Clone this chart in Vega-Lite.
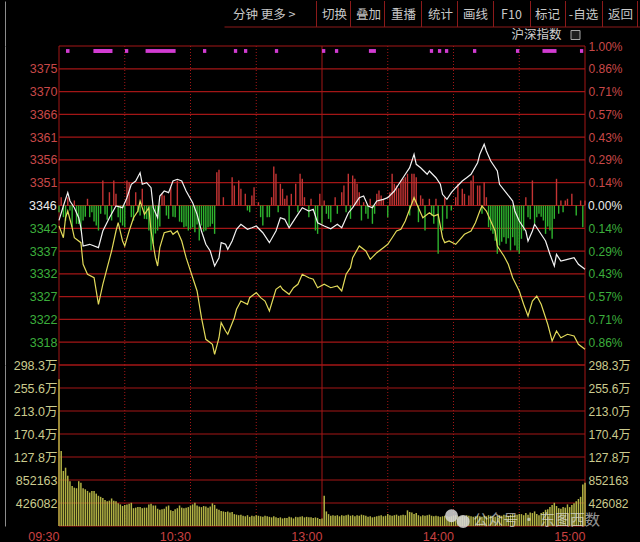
{
  "$schema": "https://vega.github.io/schema/vega-lite/v6.json",
  "background": "#000000",
  "padding": {"left": 5, "top": 0, "right": 0, "bottom": 1},
  "spacing": 0,
  "bounds": "flush",
  "config": {
    "view": {"stroke": null},
    "axis": {"labelFont": "Liberation Sans, Noto Sans CJK SC", "labelFontSize": 12, "ticks": false, "tickSize": 0, "grid": false, "domain": false, "labelOverlap": false, "labelFlush": false}
  },
  "vconcat": [
    {
      "width": 581,
      "height": 45,
      "layer": [
        {
          "data": {"values": [
            {"x": 186.5, "y": 14, "s": "分钟"}, {"x": 219, "y": 14, "s": "更多 >"},
            {"x": 275.5, "y": 14, "s": "切换"}, {"x": 309.5, "y": 14, "s": "叠加"},
            {"x": 344.5, "y": 14, "s": "重播"}, {"x": 381.5, "y": 14, "s": "统计"},
            {"x": 416.5, "y": 14, "s": "画线"}, {"x": 452.5, "y": 14, "s": "F10"},
            {"x": 488.5, "y": 14, "s": "标记"}, {"x": 524.5, "y": 14, "s": "-自选"},
            {"x": 561.5, "y": 14, "s": "返回"}
          ]},
          "mark": {"type": "text", "font": "Noto Sans CJK SC", "fontSize": 12.5, "color": "#c8c8c8", "baseline": "middle", "align": "center"},
          "encoding": {
            "x": {"field": "x", "type": "quantitative", "scale": {"domain": [0, 581], "nice": false, "zero": false}, "axis": null},
            "y": {"field": "y", "type": "quantitative", "scale": {"domain": [0, 45], "nice": false, "reverse": true},
              "axis": {"orient": "left", "offset": 54, "domain": true, "domainColor": "#8c8c8c", "domainWidth": 1, "labels": false, "ticks": false, "grid": false, "title": null, "values": [10]}},
            "text": {"field": "s"}
          }
        },
        {
          "data": {"values": [
            {"x": 257.5, "y": 0, "y2": 26}, {"x": 291.5, "y": 0, "y2": 26}, {"x": 325.5, "y": 0, "y2": 26}, {"x": 362.5, "y": 0, "y2": 26}, {"x": 398.5, "y": 0, "y2": 26},
            {"x": 434.5, "y": 0, "y2": 26}, {"x": 471.5, "y": 0, "y2": 26}, {"x": 506.5, "y": 0, "y2": 26}, {"x": 543.5, "y": 0, "y2": 26}, {"x": 578.5, "y": 0, "y2": 26}
          ]},
          "mark": {"type": "rule", "color": "#8b1a1a", "strokeWidth": 1},
          "encoding": {
            "x": {"field": "x", "type": "quantitative", "scale": {"domain": [0, 581], "nice": false, "zero": false}, "axis": null},
            "y": {"field": "y", "type": "quantitative", "scale": {"domain": [0, 45], "nice": false, "reverse": true}},
            "y2": {"field": "y2"}
          }
        },
        {
          "data": {"values": [{"x": 165.5, "x2": 581, "y": 26}]},
          "mark": {"type": "rule", "color": "#8b1a1a", "strokeWidth": 1},
          "encoding": {
            "x": {"field": "x", "type": "quantitative", "scale": {"domain": [0, 581], "nice": false, "zero": false}, "axis": null},
            "x2": {"field": "x2"},
            "y": {"field": "y", "type": "quantitative", "scale": {"domain": [0, 45], "nice": false, "reverse": true}}
          }
        },
        {
          "data": {"values": [{"x": 502.5, "y": 34, "s": "沪深指数"}]},
          "mark": {"type": "text", "font": "Noto Sans CJK SC", "fontSize": 12.5, "color": "#d0d0d0", "baseline": "middle", "align": "right"},
          "encoding": {
            "x": {"field": "x", "type": "quantitative", "scale": {"domain": [0, 581], "nice": false, "zero": false}, "axis": null},
            "y": {"field": "y", "type": "quantitative", "scale": {"domain": [0, 45], "nice": false, "reverse": true}},
            "text": {"field": "s"}
          }
        },
        {
          "data": {"values": [{"x": 512, "x2": 521, "y": 29.5, "y2": 38.5}]},
          "mark": {"type": "rect", "fill": "#202020", "stroke": "#a8a8a8", "strokeWidth": 1},
          "encoding": {
            "x": {"field": "x", "type": "quantitative", "scale": {"domain": [0, 581], "nice": false, "zero": false}, "axis": null},
            "x2": {"field": "x2"},
            "y": {"field": "y", "type": "quantitative", "scale": {"domain": [0, 45], "nice": false, "reverse": true}},
            "y2": {"field": "y2"}
          }
        }
      ]
    },
    {
      "width": 526,
      "height": 319,
      "resolve": {"axis": {"y": "independent"}},
      "layer": [
        {
          "data": {"values": [
            {"p": 3312.916}, {"p": 3317.697}, {"p": 3322.477}, {"p": 3327.258}, {"p": 3332.038},
            {"p": 3336.819}, {"p": 3341.599}, {"p": 3346.38}, {"p": 3351.161}, {"p": 3355.941},
            {"p": 3360.722}, {"p": 3365.502}, {"p": 3370.283}, {"p": 3375.063}, {"p": 3379.844}
          ]},
          "mark": {"type": "rule", "color": "#a31616", "strokeWidth": 1.2},
          "encoding": {
            "y": {
              "field": "p", "type": "quantitative",
              "scale": {"domain": [3312.916, 3379.844], "nice": false, "zero": false},
              "axis": {
                "orient": "left", "title": null, "offset": 54, "domain": true, "domainColor": "#8c8c8c", "domainWidth": 1,
                "labelPadding": -52, "labelFontSize": 12.5,
                "values": [3317.697, 3322.477, 3327.258, 3332.038, 3336.819, 3341.599, 3346.38, 3351.161, 3355.941, 3360.722, 3365.502, 3370.283, 3375.063],
                "labelExpr": "abs(datum.value - 3346.38) < 0.1 ? '' : format(datum.value, '.0f')",
                "labelColor": {"condition": {"test": "datum.value > 3347", "value": "#c84848"}, "value": "#3cae3c"}
              }
            }
          }
        },
        {
          "data": {"values": [{"t": 0}, {"t": 120}, {"t": 240}]},
          "mark": {"type": "rule", "color": "#a31616", "strokeWidth": 1},
          "encoding": {
            "x": {"field": "t", "type": "quantitative", "scale": {"domain": [0, 240], "nice": false, "zero": false}, "axis": null}
          }
        },
        {
          "data": {"values": [{"t": 30}, {"t": 60}, {"t": 90}, {"t": 150}, {"t": 180}, {"t": 210}]},
          "mark": {"type": "rule", "color": "#a31616", "strokeWidth": 1, "strokeDash": [1, 2]},
          "encoding": {
            "x": {"field": "t", "type": "quantitative", "scale": {"domain": [0, 240], "nice": false, "zero": false}, "axis": null}
          }
        },
        {
          "data": {"values": [
            {"t":0,"b":3344.97},{"t":1,"b":3348.12},{"t":2,"b":3343.93},{"t":3,"b":3343.2},{"t":4,"b":3348.12},{"t":5,"b":3345.33},{"t":6,"b":3341.83},{"t":7,"b":3347.43},{"t":8,"b":3342.54},{"t":9,"b":3342.5},{"t":10,"b":3341.13},{"t":11,"b":3343.23},{"t":12,"b":3344.0},{"t":13,"b":3347.79},{"t":14,"b":3343.93},{"t":15,"b":3344.97},{"t":16,"b":3343.0},{"t":17,"b":3342.2},{"t":18,"b":3341.13},{"t":19,"b":3344.64},{"t":20,"b":3351.63},{"t":21,"b":3344.5},{"t":22,"b":3343.4},{"t":23,"b":3349.17},{"t":24,"b":3343.23},{"t":25,"b":3351.63},{"t":26,"b":3348.83},{"t":27,"b":3343.93},{"t":28,"b":3342.8},{"t":29,"b":3342.18},{"t":30,"b":3341.83},{"t":31,"b":3351.63},{"t":32,"b":3351.27},{"t":33,"b":3343.93},{"t":34,"b":3343.23},{"t":35,"b":3349.17},{"t":36,"b":3344.97},{"t":37,"b":3344.28},{"t":38,"b":3349.88},{"t":39,"b":3343.58},{"t":40,"b":3343.5},{"t":41,"b":3341.13},{"t":42,"b":3336.94},{"t":43,"b":3338.34},{"t":44,"b":3340.5},{"t":45,"b":3341.13},{"t":46,"b":3342.0},{"t":47,"b":3348.83},{"t":48,"b":3348.48},{"t":49,"b":3344.28},{"t":50,"b":3343.58},{"t":51,"b":3350.22},{"t":52,"b":3344.0},{"t":53,"b":3343.93},{"t":54,"b":3351.63},{"t":55,"b":3343.0},{"t":56,"b":3342.88},{"t":57,"b":3341.83},{"t":58,"b":3342.0},{"t":59,"b":3341.13},{"t":60,"b":3341.48},{"t":61,"b":3341.8},{"t":62,"b":3340.78},{"t":63,"b":3342.4},{"t":64,"b":3339.04},{"t":65,"b":3342.18},{"t":66,"b":3340.9},{"t":67,"b":3341.13},{"t":68,"b":3341.83},{"t":69,"b":3342.0},{"t":70,"b":3342.54},{"t":71,"b":3340.43},{"t":72,"b":3353.37},{"t":73,"b":3353.87},{"t":75,"b":3348.12},{"t":79,"b":3352.32},{"t":80,"b":3350.58},{"t":82,"b":3351.63},{"t":83,"b":3349.88},{"t":85,"b":3348.83},{"t":86,"b":3345.33},{"t":87,"b":3344.97},{"t":88,"b":3348.48},{"t":89,"b":3350.22},{"t":91,"b":3347.07},{"t":92,"b":3343.93},{"t":93,"b":3342.18},{"t":95,"b":3343.93},{"t":96,"b":3343.93},{"t":97,"b":3348.12},{"t":98,"b":3354.56},{"t":99,"b":3353.03},{"t":100,"b":3344.97},{"t":101,"b":3350.93},{"t":102,"b":3349.88},{"t":103,"b":3347.79},{"t":104,"b":3348.48},{"t":105,"b":3342.18},{"t":106,"b":3348.83},{"t":108,"b":3350.93},{"t":109,"b":3344.97},{"t":110,"b":3353.03},{"t":111,"b":3351.98},{"t":112,"b":3348.12},{"t":114,"b":3343.93},{"t":115,"b":3347.79},{"t":117,"b":3341.13},{"t":118,"b":3340.43},{"t":119,"b":3348.83},{"t":120,"b":3342.54},{"t":121,"b":3347.43},{"t":122,"b":3344.64},{"t":123,"b":3343.58},{"t":124,"b":3342.88},{"t":126,"b":3348.12},{"t":127,"b":3344.64},{"t":129,"b":3349.17},{"t":130,"b":3350.58},{"t":131,"b":3344.97},{"t":132,"b":3353.03},{"t":133,"b":3343.58},{"t":134,"b":3352.67},{"t":135,"b":3351.98},{"t":136,"b":3350.93},{"t":137,"b":3349.17},{"t":138,"b":3343.23},{"t":139,"b":3347.07},{"t":140,"b":3344.64},{"t":141,"b":3343.58},{"t":142,"b":3347.8},{"t":143,"b":3342.54},{"t":144,"b":3344.64},{"t":145,"b":3348.83},{"t":146,"b":3349.53},{"t":147,"b":3348.5},{"t":148,"b":3347.79},{"t":150,"b":3343.93},{"t":151,"b":3349.17},{"t":152,"b":3353.03},{"t":153,"b":3350.93},{"t":154,"b":3350.58},{"t":155,"b":3350.0},{"t":156,"b":3351.63},{"t":157,"b":3352.0},{"t":158,"b":3352.32},{"t":159,"b":3353.03},{"t":160,"b":3344.28},{"t":161,"b":3353.03},{"t":162,"b":3353.03},{"t":163,"b":3352.32},{"t":164,"b":3342.88},{"t":165,"b":3348.5},{"t":166,"b":3347.79},{"t":167,"b":3341.13},{"t":169,"b":3347.79},{"t":170,"b":3344.28},{"t":171,"b":3342.54},{"t":172,"b":3347.79},{"t":173,"b":3336.24},{"t":175,"b":3341.13},{"t":176,"b":3348.12},{"t":177,"b":3343.58},{"t":179,"b":3345.33},{"t":181,"b":3348.12},{"t":182,"b":3350.93},{"t":184,"b":3349.88},{"t":185,"b":3348.83},{"t":187,"b":3348.48},{"t":188,"b":3351.63},{"t":189,"b":3352.67},{"t":191,"b":3350.58},{"t":192,"b":3350.58},{"t":193,"b":3344.64},{"t":194,"b":3351.27},{"t":195,"b":3348.12},{"t":196,"b":3341.83},{"t":197,"b":3341.13},{"t":198,"b":3340.43},{"t":199,"b":3339.0},{"t":200,"b":3336.24},{"t":201,"b":3337.99},{"t":202,"b":3338.8},{"t":203,"b":3339.73},{"t":204,"b":3338.34},{"t":205,"b":3339.5},{"t":206,"b":3336.94},{"t":207,"b":3339.73},{"t":208,"b":3338.0},{"t":209,"b":3336.94},{"t":210,"b":3336.24},{"t":211,"b":3339.39},{"t":212,"b":3341.13},{"t":213,"b":3348.12},{"t":214,"b":3343.93},{"t":215,"b":3343.5},{"t":216,"b":3351.63},{"t":217,"b":3342.6},{"t":218,"b":3343.9},{"t":219,"b":3344.64},{"t":220,"b":3344.0},{"t":221,"b":3343.23},{"t":222,"b":3340.43},{"t":223,"b":3342.0},{"t":224,"b":3341.13},{"t":225,"b":3339.39},{"t":226,"b":3343.58},{"t":227,"b":3351.98},{"t":228,"b":3344.64},{"t":229,"b":3347.43},{"t":230,"b":3344.97},{"t":231,"b":3347.43},{"t":232,"b":3347.79},{"t":234,"b":3348.83},{"t":236,"b":3344.28},{"t":238,"b":3347.43},{"t":239,"b":3341.83},{"t":240,"b":3347.43}
          ]},
          "mark": {"type": "rule", "strokeWidth": 1.4},
          "encoding": {
            "x": {"field": "t", "type": "quantitative", "scale": {"domain": [0, 240], "nice": false, "zero": false}, "axis": null},
            "y": {
              "field": "b", "type": "quantitative",
              "scale": {"domain": [3312.916, 3379.844], "nice": false, "zero": false},
              "axis": {
                "orient": "right", "title": null, "labelPadding": 3, "labelFontSize": 12,
                "values": [3317.697, 3322.477, 3327.258, 3332.038, 3336.819, 3341.599, 3346.38, 3351.161, 3355.941, 3360.722, 3365.502, 3370.283, 3375.063, 3379.844],
                "labelExpr": "abs(datum.value - 3346.38) < 0.1 ? '' : format(abs(datum.value - 3346.38) / 33.4638, '.2f') + '%'",
                "labelColor": {"condition": {"test": "datum.value > 3347", "value": "#c84848"}, "value": "#3cae3c"}
              }
            },
            "y2": {"datum": 3346.38},
            "color": {"condition": {"test": "datum.b > 3346.38", "value": "#c43434"}, "value": "#2eb42e"}
          }
        },
        {
          "data": {"values": [
            {"t":0,"s":"加权","p":3343.27},{"t":2,"s":"加权","p":3346.28},{"t":4,"s":"加权","p":3349.07},{"t":5,"s":"加权","p":3347.32},{"t":7,"s":"加权","p":3345.92},{"t":9,"s":"加权","p":3343.82},{"t":10,"s":"加权","p":3341.72},{"t":11,"s":"加权","p":3337.88},{"t":14,"s":"加权","p":3338.24},{"t":18,"s":"加权","p":3337.53},{"t":20,"s":"加权","p":3341.03},{"t":23,"s":"加权","p":3343.82},{"t":26,"s":"加权","p":3346.28},{"t":29,"s":"加权","p":3345.92},{"t":31,"s":"加权","p":3348.02},{"t":33,"s":"加权","p":3350.83},{"t":35,"s":"加权","p":3351.52},{"t":37,"s":"加权","p":3353.26},{"t":38,"s":"加权","p":3350.83},{"t":40,"s":"加权","p":3351.16},{"t":42,"s":"加权","p":3350.11},{"t":43,"s":"加权","p":3345.92},{"t":45,"s":"加权","p":3343.82},{"t":46,"s":"加权","p":3348.37},{"t":48,"s":"加权","p":3349.42},{"t":50,"s":"加权","p":3349.07},{"t":52,"s":"加权","p":3351.52},{"t":54,"s":"加权","p":3351.88},{"t":56,"s":"加权","p":3351.52},{"t":58,"s":"加权","p":3349.42},{"t":61,"s":"加权","p":3346.97},{"t":63,"s":"加权","p":3344.53},{"t":65,"s":"加权","p":3341.03},{"t":67,"s":"加权","p":3338.24},{"t":69,"s":"加权","p":3336.83},{"t":71,"s":"加权","p":3333.69},{"t":73,"s":"加权","p":3335.43},{"t":74,"s":"加权","p":3338.58},{"t":76,"s":"加权","p":3338.24},{"t":77,"s":"加权","p":3337.19},{"t":79,"s":"加权","p":3338.93},{"t":81,"s":"加权","p":3341.39},{"t":83,"s":"加权","p":3342.44},{"t":86,"s":"加权","p":3341.39},{"t":88,"s":"加权","p":3341.72},{"t":90,"s":"加权","p":3342.08},{"t":93,"s":"加权","p":3340.67},{"t":96,"s":"加权","p":3338.58},{"t":99,"s":"加权","p":3341.03},{"t":101,"s":"加权","p":3343.82},{"t":103,"s":"加权","p":3343.48},{"t":105,"s":"加权","p":3341.72},{"t":108,"s":"加权","p":3343.82},{"t":111,"s":"加权","p":3345.92},{"t":114,"s":"加权","p":3345.23},{"t":116,"s":"加权","p":3345.58},{"t":118,"s":"加权","p":3342.77},{"t":121,"s":"加权","p":3342.08},{"t":124,"s":"加权","p":3341.5},{"t":127,"s":"加权","p":3342.44},{"t":129,"s":"加权","p":3341.72},{"t":132,"s":"加权","p":3344.81},{"t":134,"s":"加权","p":3345.92},{"t":137,"s":"加权","p":3348.02},{"t":139,"s":"加权","p":3348.37},{"t":141,"s":"加权","p":3346.28},{"t":143,"s":"加权","p":3345.92},{"t":145,"s":"加权","p":3347.32},{"t":148,"s":"加权","p":3347.68},{"t":150,"s":"加权","p":3348.02},{"t":153,"s":"加权","p":3349.42},{"t":155,"s":"加权","p":3350.83},{"t":156,"s":"加权","p":3351.52},{"t":158,"s":"加权","p":3352.93},{"t":160,"s":"加权","p":3354.31},{"t":162,"s":"加权","p":3357.12},{"t":163,"s":"加权","p":3355.02},{"t":165,"s":"加权","p":3354.31},{"t":168,"s":"加权","p":3352.93},{"t":169,"s":"加权","p":3353.62},{"t":172,"s":"加权","p":3352.21},{"t":174,"s":"加权","p":3350.83},{"t":175,"s":"加权","p":3348.73},{"t":177,"s":"加权","p":3347.68},{"t":179,"s":"加权","p":3349.07},{"t":181,"s":"加权","p":3350.11},{"t":184,"s":"加权","p":3351.52},{"t":186,"s":"加权","p":3352.21},{"t":188,"s":"加权","p":3352.93},{"t":191,"s":"加权","p":3355.36},{"t":192,"s":"加权","p":3357.12},{"t":194,"s":"加权","p":3359.22},{"t":195,"s":"加权","p":3357.81},{"t":197,"s":"加权","p":3355.72},{"t":200,"s":"加权","p":3353.62},{"t":201,"s":"加权","p":3350.83},{"t":204,"s":"加权","p":3349.07},{"t":207,"s":"加权","p":3347.32},{"t":208,"s":"加权","p":3345.23},{"t":210,"s":"加权","p":3343.13},{"t":213,"s":"加权","p":3341.03},{"t":214,"s":"加权","p":3338.93},{"t":216,"s":"加权","p":3341.03},{"t":217,"s":"加权","p":3342.44},{"t":219,"s":"加权","p":3341.03},{"t":222,"s":"加权","p":3338.93},{"t":224,"s":"加权","p":3336.14},{"t":226,"s":"加权","p":3333.69},{"t":227,"s":"加权","p":3336.14},{"t":229,"s":"加权","p":3334.74},{"t":232,"s":"加权","p":3335.09},{"t":235,"s":"加权","p":3335.43},{"t":237,"s":"加权","p":3334.04},{"t":240,"s":"加权","p":3332.99},
            {"t":0,"s":"不加权","p":3342.08},{"t":2,"s":"不加权","p":3339.62},{"t":3,"s":"不加权","p":3343.82},{"t":4,"s":"不加权","p":3345.23},{"t":6,"s":"不加权","p":3341.72},{"t":7,"s":"不加权","p":3339.62},{"t":10,"s":"不加权","p":3338.58},{"t":11,"s":"不加权","p":3334.04},{"t":13,"s":"不加权","p":3331.95},{"t":16,"s":"不加权","p":3331.23},{"t":18,"s":"不加权","p":3325.65},{"t":20,"s":"不加权","p":3329.85},{"t":22,"s":"不加权","p":3333.33},{"t":24,"s":"不加权","p":3336.83},{"t":26,"s":"不加权","p":3341.03},{"t":27,"s":"不加权","p":3342.77},{"t":29,"s":"不加权","p":3338.93},{"t":30,"s":"不加权","p":3337.88},{"t":32,"s":"不加权","p":3341.03},{"t":34,"s":"不加权","p":3343.82},{"t":36,"s":"不加权","p":3345.23},{"t":37,"s":"不加权","p":3347.32},{"t":39,"s":"不加权","p":3344.53},{"t":41,"s":"不加权","p":3345.92},{"t":42,"s":"不加权","p":3341.03},{"t":44,"s":"不加权","p":3335.43},{"t":45,"s":"不加权","p":3333.69},{"t":46,"s":"不加权","p":3337.53},{"t":48,"s":"不加权","p":3340.67},{"t":51,"s":"不加权","p":3341.03},{"t":52,"s":"不加权","p":3340.34},{"t":54,"s":"不加权","p":3341.03},{"t":56,"s":"不加权","p":3338.93},{"t":58,"s":"不加权","p":3335.43},{"t":60,"s":"不加权","p":3332.64},{"t":63,"s":"不加权","p":3328.44},{"t":65,"s":"不加权","p":3322.84},{"t":67,"s":"不加权","p":3318.31},{"t":70,"s":"不加权","p":3317.26},{"t":71,"s":"不加权","p":3315.16},{"t":73,"s":"不加权","p":3318.64},{"t":74,"s":"不加权","p":3321.79},{"t":76,"s":"不加权","p":3320.05},{"t":77,"s":"不加权","p":3319.36},{"t":80,"s":"不加权","p":3322.84},{"t":81,"s":"不加权","p":3324.6},{"t":83,"s":"不加权","p":3326.34},{"t":86,"s":"不加权","p":3325.65},{"t":87,"s":"不加权","p":3327.04},{"t":90,"s":"不加权","p":3328.09},{"t":92,"s":"不加权","p":3327.04},{"t":94,"s":"不加权","p":3326.34},{"t":96,"s":"不加权","p":3324.25},{"t":99,"s":"不加权","p":3328.8},{"t":101,"s":"不加权","p":3329.49},{"t":102,"s":"不加权","p":3328.8},{"t":105,"s":"不加权","p":3327.75},{"t":107,"s":"不加权","p":3329.13},{"t":109,"s":"不加权","p":3329.85},{"t":111,"s":"不加权","p":3331.95},{"t":114,"s":"不加权","p":3331.23},{"t":116,"s":"不加权","p":3330.9},{"t":118,"s":"不加权","p":3329.13},{"t":121,"s":"不加权","p":3329.85},{"t":124,"s":"不加权","p":3329.13},{"t":127,"s":"不加权","p":3329.49},{"t":129,"s":"不加权","p":3328.44},{"t":131,"s":"不加权","p":3331.95},{"t":133,"s":"不加权","p":3333.33},{"t":134,"s":"不加权","p":3335.43},{"t":137,"s":"不加权","p":3337.88},{"t":140,"s":"不加权","p":3336.83},{"t":142,"s":"不加权","p":3335.09},{"t":145,"s":"不加权","p":3336.48},{"t":148,"s":"不加权","p":3337.53},{"t":150,"s":"不加权","p":3338.24},{"t":152,"s":"不加权","p":3339.62},{"t":154,"s":"不加权","p":3341.03},{"t":156,"s":"不加权","p":3341.39},{"t":158,"s":"不加权","p":3343.13},{"t":160,"s":"不加权","p":3345.58},{"t":162,"s":"不加权","p":3348.02},{"t":164,"s":"不加权","p":3345.92},{"t":166,"s":"不加权","p":3343.82},{"t":169,"s":"不加权","p":3344.87},{"t":171,"s":"不加权","p":3344.18},{"t":173,"s":"不加权","p":3344.53},{"t":175,"s":"不加权","p":3339.62},{"t":176,"s":"不加权","p":3338.58},{"t":178,"s":"不加权","p":3338.93},{"t":181,"s":"不加权","p":3338.24},{"t":183,"s":"不加权","p":3339.29},{"t":185,"s":"不加权","p":3340.34},{"t":188,"s":"不加权","p":3341.03},{"t":190,"s":"不加权","p":3342.77},{"t":192,"s":"不加权","p":3345.23},{"t":193,"s":"不加权","p":3346.28},{"t":195,"s":"不加权","p":3345.23},{"t":197,"s":"不加权","p":3343.13},{"t":199,"s":"不加权","p":3341.03},{"t":200,"s":"不加权","p":3337.88},{"t":203,"s":"不加权","p":3335.79},{"t":205,"s":"不加权","p":3334.04},{"t":207,"s":"不加权","p":3331.23},{"t":210,"s":"不加权","p":3328.44},{"t":212,"s":"不加权","p":3325.65},{"t":214,"s":"不加权","p":3323.2},{"t":216,"s":"不加权","p":3326.34},{"t":218,"s":"不加权","p":3327.39},{"t":220,"s":"不加权","p":3325.65},{"t":223,"s":"不加权","p":3321.46},{"t":225,"s":"不加权","p":3317.95},{"t":227,"s":"不加权","p":3320.05},{"t":229,"s":"不加权","p":3318.64},{"t":232,"s":"不加权","p":3319.36},{"t":235,"s":"不加权","p":3319.0},{"t":237,"s":"不加权","p":3317.26},{"t":240,"s":"不加权","p":3316.21}
          ]},
          "mark": {"type": "line", "strokeWidth": 1.2, "interpolate": "linear"},
          "encoding": {
            "x": {"field": "t", "type": "quantitative", "scale": {"domain": [0, 240], "nice": false, "zero": false}, "axis": null},
            "y": {"field": "p", "type": "quantitative", "scale": {"domain": [3312.916, 3379.844], "nice": false, "zero": false}, "axis": null},
            "color": {"field": "s", "type": "nominal", "scale": {"domain": ["加权", "不加权"], "range": ["#f2f2f2", "#e2da5a"]}, "legend": null}
          }
        },
        {
          "data": {"values": [
            {"t0": 3.2, "t1": 4.8, "lo": 3378.4, "hi": 3379.2}, {"t0": 15.7, "t1": 24.4, "lo": 3378.4, "hi": 3379.2}, {"t0": 30.1, "t1": 31.6, "lo": 3378.4, "hi": 3379.2}, {"t0": 39.5, "t1": 53.2, "lo": 3378.4, "hi": 3379.2},
            {"t0": 65.7, "t1": 67.2, "lo": 3378.4, "hi": 3379.2}, {"t0": 79.8, "t1": 81.3, "lo": 3378.4, "hi": 3379.2}, {"t0": 84.4, "t1": 85.9, "lo": 3378.4, "hi": 3379.2}, {"t0": 98.5, "t1": 100, "lo": 3378.4, "hi": 3379.2},
            {"t0": 120, "t1": 121.5, "lo": 3378.4, "hi": 3379.2}, {"t0": 125.9, "t1": 127.4, "lo": 3378.4, "hi": 3379.2}, {"t0": 141.4, "t1": 144.6, "lo": 3378.4, "hi": 3379.2}, {"t0": 169.2, "t1": 170.7, "lo": 3378.4, "hi": 3379.2},
            {"t0": 172.9, "t1": 174.4, "lo": 3378.4, "hi": 3379.2}, {"t0": 176.1, "t1": 177.6, "lo": 3378.4, "hi": 3379.2}, {"t0": 188.9, "t1": 190.4, "lo": 3378.4, "hi": 3379.2}, {"t0": 208.5, "t1": 210, "lo": 3378.4, "hi": 3379.2},
            {"t0": 220.6, "t1": 227, "lo": 3378.4, "hi": 3379.2}, {"t0": 237.7, "t1": 239.2, "lo": 3378.4, "hi": 3379.2}
          ]},
          "mark": {"type": "rect", "color": "#d23cd2"},
          "encoding": {
            "x": {"field": "t0", "type": "quantitative", "scale": {"domain": [0, 240], "nice": false, "zero": false}, "axis": null},
            "x2": {"field": "t1"},
            "y": {"field": "lo", "type": "quantitative", "scale": {"domain": [3312.916, 3379.844], "nice": false, "zero": false}, "axis": null},
            "y2": {"field": "hi"}
          }
        },
        {
          "data": {"values": [{"t": -1, "p": 3346.38, "s": "3346"}]},
          "mark": {"type": "text", "font": "Liberation Sans, Noto Sans CJK SC", "fontSize": 12.5, "align": "right", "baseline": "middle", "color": "#ececec"},
          "encoding": {
            "x": {"field": "t", "type": "quantitative", "scale": {"domain": [0, 240], "nice": false, "zero": false}, "axis": null},
            "y": {"field": "p", "type": "quantitative", "scale": {"domain": [3312.916, 3379.844], "nice": false, "zero": false}, "axis": null},
            "text": {"field": "s"}
          }
        },
        {
          "data": {"values": [{"t": 241.4, "p": 3346.38, "s": "0.00%"}]},
          "mark": {"type": "text", "font": "Liberation Sans, Noto Sans CJK SC", "fontSize": 12, "align": "left", "baseline": "middle", "color": "#ececec"},
          "encoding": {
            "x": {"field": "t", "type": "quantitative", "scale": {"domain": [0, 240], "nice": false, "zero": false}, "axis": null},
            "y": {"field": "p", "type": "quantitative", "scale": {"domain": [3312.916, 3379.844], "nice": false, "zero": false}, "axis": null},
            "text": {"field": "s"}
          }
        }
      ]
    },
    {
      "width": 526,
      "height": 161,
      "resolve": {"axis": {"y": "independent"}},
      "layer": [
        {
          "data": {"values": [
            {"v": 0}, {"v": 426081.6}, {"v": 852163.2}, {"v": 1278244.8}, {"v": 1704326.4}, {"v": 2130408}, {"v": 2556489.6}, {"v": 2982571.2}
          ]},
          "mark": {"type": "rule", "color": "#a31616", "strokeWidth": 1.2},
          "encoding": {
            "y": {
              "field": "v", "type": "quantitative",
              "scale": {"domain": [0, 2982571.2], "nice": false, "zero": true},
              "axis": {
                "orient": "left", "title": null, "offset": 54, "domain": true, "domainColor": "#8c8c8c", "domainWidth": 1,
                "labelPadding": -52, "labelFontSize": 12.5, "labelColor": "#cbcb8e",
                "values": [426081.6, 852163.2, 1278244.8, 1704326.4, 2130408, 2556489.6, 2982571.2],
                "labelExpr": "datum.value >= 1000000 ? format(datum.value / 10000, '.1f') + '万' : format(datum.value, '.0f')"
              }
            }
          }
        },
        {
          "data": {"values": [{"t": 0}, {"t": 120}, {"t": 240}]},
          "mark": {"type": "rule", "color": "#a31616", "strokeWidth": 1},
          "encoding": {
            "x": {"field": "t", "type": "quantitative", "scale": {"domain": [0, 240], "nice": false, "zero": false}}
          }
        },
        {
          "data": {"values": [{"t": 30}, {"t": 60}, {"t": 90}, {"t": 150}, {"t": 180}, {"t": 210}]},
          "mark": {"type": "rule", "color": "#a31616", "strokeWidth": 1, "strokeDash": [1, 2]},
          "encoding": {
            "x": {"field": "t", "type": "quantitative", "scale": {"domain": [0, 240], "nice": false, "zero": false}}
          }
        },
        {
          "data": {"values": [
            {"t":0,"v":2720000},{"t":1,"v":1390000},{"t":2,"v":1020000},{"t":3,"v":1080000},{"t":4,"v":930000},{"t":5,"v":830000},{"t":6,"v":740000},{"t":7,"v":710000},{"t":8,"v":700000},{"t":9,"v":830000},{"t":10,"v":800000},{"t":11,"v":700000},{"t":12,"v":680000},{"t":13,"v":650000},{"t":14,"v":620000},{"t":15,"v":650000},{"t":16,"v":650000},{"t":17,"v":600000},{"t":18,"v":560000},{"t":19,"v":540000},{"t":20,"v":520000},{"t":21,"v":480000},{"t":22,"v":460000},{"t":23,"v":470000},{"t":24,"v":510000},{"t":25,"v":470000},{"t":26,"v":460000},{"t":27,"v":420000},{"t":28,"v":400000},{"t":29,"v":370000},{"t":30,"v":390000},{"t":31,"v":400000},{"t":32,"v":410000},{"t":33,"v":430000},{"t":34,"v":330000},{"t":35,"v":340000},{"t":36,"v":350000},{"t":37,"v":350000},{"t":38,"v":330000},{"t":39,"v":340000},{"t":40,"v":340000},{"t":41,"v":400000},{"t":42,"v":410000},{"t":43,"v":380000},{"t":44,"v":380000},{"t":45,"v":320000},{"t":46,"v":300000},{"t":47,"v":310000},{"t":48,"v":320000},{"t":49,"v":360000},{"t":50,"v":380000},{"t":51,"v":290000},{"t":52,"v":280000},{"t":53,"v":310000},{"t":54,"v":330000},{"t":55,"v":380000},{"t":56,"v":340000},{"t":57,"v":330000},{"t":58,"v":340000},{"t":59,"v":350000},{"t":60,"v":380000},{"t":61,"v":400000},{"t":62,"v":430000},{"t":63,"v":380000},{"t":64,"v":360000},{"t":65,"v":350000},{"t":66,"v":370000},{"t":67,"v":360000},{"t":68,"v":340000},{"t":69,"v":360000},{"t":70,"v":420000},{"t":71,"v":390000},{"t":72,"v":320000},{"t":73,"v":300000},{"t":74,"v":280000},{"t":75,"v":270000},{"t":76,"v":260000},{"t":77,"v":270000},{"t":78,"v":250000},{"t":79,"v":260000},{"t":80,"v":220000},{"t":81,"v":210000},{"t":82,"v":200000},{"t":83,"v":210000},{"t":84,"v":190000},{"t":85,"v":180000},{"t":86,"v":200000},{"t":87,"v":170000},{"t":88,"v":190000},{"t":89,"v":180000},{"t":90,"v":200000},{"t":91,"v":190000},{"t":92,"v":180000},{"t":93,"v":170000},{"t":94,"v":190000},{"t":95,"v":180000},{"t":96,"v":170000},{"t":97,"v":160000},{"t":98,"v":180000},{"t":99,"v":160000},{"t":100,"v":150000},{"t":101,"v":160000},{"t":102,"v":140000},{"t":103,"v":150000},{"t":104,"v":150000},{"t":105,"v":170000},{"t":106,"v":160000},{"t":107,"v":140000},{"t":108,"v":170000},{"t":109,"v":160000},{"t":110,"v":170000},{"t":111,"v":180000},{"t":112,"v":160000},{"t":113,"v":170000},{"t":114,"v":160000},{"t":115,"v":160000},{"t":116,"v":150000},{"t":117,"v":160000},{"t":118,"v":150000},{"t":119,"v":130000},{"t":120,"v":140000},{"t":121,"v":560000},{"t":122,"v":270000},{"t":123,"v":220000},{"t":124,"v":190000},{"t":125,"v":200000},{"t":126,"v":190000},{"t":127,"v":200000},{"t":128,"v":180000},{"t":129,"v":200000},{"t":130,"v":190000},{"t":131,"v":200000},{"t":132,"v":210000},{"t":133,"v":190000},{"t":134,"v":200000},{"t":135,"v":180000},{"t":136,"v":200000},{"t":137,"v":190000},{"t":138,"v":210000},{"t":139,"v":200000},{"t":140,"v":190000},{"t":141,"v":170000},{"t":142,"v":180000},{"t":143,"v":160000},{"t":144,"v":170000},{"t":145,"v":180000},{"t":146,"v":190000},{"t":147,"v":200000},{"t":148,"v":180000},{"t":149,"v":190000},{"t":150,"v":220000},{"t":151,"v":200000},{"t":152,"v":190000},{"t":153,"v":200000},{"t":154,"v":210000},{"t":155,"v":190000},{"t":156,"v":200000},{"t":157,"v":210000},{"t":158,"v":200000},{"t":159,"v":290000},{"t":160,"v":260000},{"t":161,"v":250000},{"t":162,"v":220000},{"t":163,"v":240000},{"t":164,"v":200000},{"t":165,"v":180000},{"t":166,"v":200000},{"t":167,"v":190000},{"t":168,"v":200000},{"t":169,"v":210000},{"t":170,"v":190000},{"t":171,"v":180000},{"t":172,"v":190000},{"t":173,"v":180000},{"t":174,"v":170000},{"t":175,"v":180000},{"t":176,"v":190000},{"t":177,"v":180000},{"t":178,"v":170000},{"t":179,"v":180000},{"t":180,"v":190000},{"t":181,"v":200000},{"t":182,"v":180000},{"t":183,"v":170000},{"t":184,"v":190000},{"t":185,"v":180000},{"t":186,"v":200000},{"t":187,"v":190000},{"t":188,"v":180000},{"t":189,"v":170000},{"t":190,"v":180000},{"t":191,"v":190000},{"t":192,"v":180000},{"t":193,"v":170000},{"t":194,"v":190000},{"t":195,"v":180000},{"t":196,"v":200000},{"t":197,"v":190000},{"t":198,"v":180000},{"t":199,"v":170000},{"t":200,"v":190000},{"t":201,"v":200000},{"t":202,"v":190000},{"t":203,"v":210000},{"t":204,"v":200000},{"t":205,"v":190000},{"t":206,"v":210000},{"t":207,"v":220000},{"t":208,"v":200000},{"t":209,"v":210000},{"t":210,"v":220000},{"t":211,"v":220000},{"t":212,"v":200000},{"t":213,"v":240000},{"t":214,"v":210000},{"t":215,"v":250000},{"t":216,"v":240000},{"t":217,"v":270000},{"t":218,"v":220000},{"t":219,"v":200000},{"t":220,"v":240000},{"t":221,"v":260000},{"t":222,"v":300000},{"t":223,"v":310000},{"t":224,"v":350000},{"t":225,"v":390000},{"t":226,"v":430000},{"t":227,"v":370000},{"t":228,"v":330000},{"t":229,"v":320000},{"t":230,"v":350000},{"t":231,"v":340000},{"t":232,"v":400000},{"t":233,"v":350000},{"t":234,"v":390000},{"t":235,"v":420000},{"t":236,"v":460000},{"t":237,"v":500000},{"t":238,"v":540000},{"t":239,"v":770000},{"t":240,"v":800000}
          ]},
          "mark": {"type": "rule", "color": "#b2b244", "strokeWidth": 1.5},
          "encoding": {
            "x": {
              "field": "t", "type": "quantitative",
              "scale": {"domain": [0, 240], "nice": false, "zero": false},
              "axis": {
                "orient": "bottom", "title": null, "values": [0, 60, 120, 180, 240],
                "labelExpr": "['09:30', '10:30', '13:00', '14:00', '15:00'][round(datum.value / 60)]",
                "labelAlign": "right", "labelDx": -1, "labelPadding": 4, "labelFontSize": 12.5, "labelColor": "#c84040"
              }
            },
            "y": {
              "field": "v", "type": "quantitative",
              "scale": {"domain": [0, 2982571.2], "nice": false, "zero": true},
              "axis": {
                "orient": "right", "title": null, "labelPadding": 3, "labelFontSize": 12, "labelColor": "#cbcb8e",
                "values": [426081.6, 852163.2, 1278244.8, 1704326.4, 2130408, 2556489.6, 2982571.2],
                "labelExpr": "datum.value >= 1000000 ? format(datum.value / 10000, '.1f') + '万' : format(datum.value, '.0f')"
              }
            },
            "y2": {"datum": 0}
          }
        },
        {
          "data": {"values": [{"t": 179.1, "v": 190000}, {"t": 184.4, "v": 85000}]},
          "mark": {"type": "point", "shape": "circle", "filled": true, "size": 170, "color": "#d8d8d8", "opacity": 0.85},
          "encoding": {
            "x": {"field": "t", "type": "quantitative", "scale": {"domain": [0, 240], "nice": false, "zero": false}},
            "y": {"field": "v", "type": "quantitative", "scale": {"domain": [0, 2982571.2], "nice": false, "zero": true}, "axis": null}
          }
        },
        {
          "data": {"values": [{"t": 189, "v": 120000, "s": "公众号 · 东图西数"}]},
          "mark": {"type": "text", "font": "Noto Sans CJK SC", "fontSize": 15, "align": "left", "baseline": "middle", "color": "#e4e4e4", "opacity": 0.65},
          "encoding": {
            "x": {"field": "t", "type": "quantitative", "scale": {"domain": [0, 240], "nice": false, "zero": false}},
            "y": {"field": "v", "type": "quantitative", "scale": {"domain": [0, 2982571.2], "nice": false, "zero": true}, "axis": null},
            "text": {"field": "s"}
          }
        }
      ]
    }
  ]
}
